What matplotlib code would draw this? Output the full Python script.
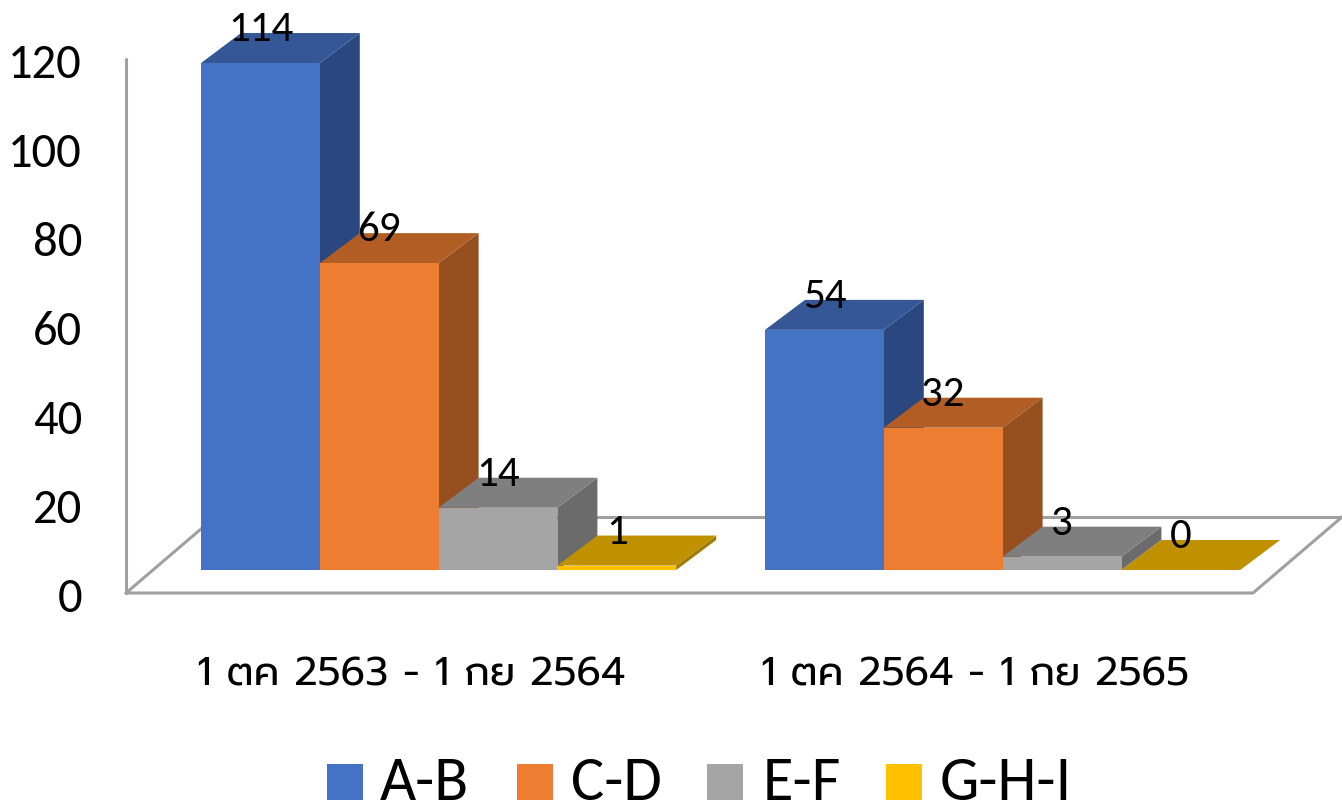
import matplotlib
matplotlib.use("Agg")
import matplotlib.pyplot as plt
from matplotlib.patches import Polygon, Rectangle

plt.rcParams['font.family'] = ['Carlito', 'Open Sans', 'DejaVu Sans']

periods = ["1 ตค 2563 - 1 กย 2564", "1 ตค 2564 - 1 กย 2565"]
series = ["A-B", "C-D", "E-F", "G-H-I"]
values = [[114, 69, 14, 1], [54, 32, 3, 0]]
y_ticks = [0, 20, 40, 60, 80, 100, 120]

front = ["#4472c4", "#ed7d31", "#a5a5a5", "#ffc000"]
top = ["#355796", "#b15d24", "#7f7f7f", "#bf9000"]
side = ["#2a4780", "#964f1e", "#6b6b6b", "#a37b00"]

W, H = 1342, 805
BAR_PX = 118.8
UNIT_PX = 4.447
X0_PX, Y0_PX = 201, 570
GROUP_STEP = 564 / BAR_PX
DX, DY = 40 / BAR_PX, 30 / UNIT_PX

fig = plt.figure(figsize=(W / 100, H / 100), dpi=100)
ax = fig.add_axes([0, 0, 1, 1])
ax.set_xlim(-X0_PX / BAR_PX, (W - X0_PX) / BAR_PX)
ax.set_ylim(-(H - Y0_PX) / UNIT_PX, Y0_PX / UNIT_PX)
ax.axis("off")


def px_x(p):
    return (p - X0_PX) / BAR_PX


def px_y(p):
    return (Y0_PX - p) / UNIT_PX


# walls and floor
line = dict(color="#a0a0a0", lw=2.2, solid_capstyle="round")
ax.plot([px_x(126), px_x(126)], [px_y(593), px_y(59)], **line)
ax.plot([px_x(126), px_x(1253), px_x(1342)], [px_y(593), px_y(593), px_y(517)], **line)
ax.plot([px_x(126), px_x(215)], [px_y(593), px_y(517)], **line)
ax.plot([px_x(215), px_x(1342)], [px_y(517), px_y(517)], **line)

for t in y_ticks:
    ax.text(px_x(82), t - 24.5 / UNIT_PX, str(t), ha="right", va="center_baseline", fontsize=35, color="black")

for g, vals in enumerate(values):
    for i, v in enumerate(vals):
        x = g * GROUP_STEP + i
        ax.add_patch(Polygon([(x + 1, 0), (x + 1 + DX, DY), (x + 1 + DX, v + DY), (x + 1, v)],
                             fc=side[i], ec="none", zorder=2 + g * 10 + i))
        ax.add_patch(Polygon([(x, v), (x + 1, v), (x + 1 + DX, v + DY), (x + DX, v + DY)],
                             fc=top[i], ec="none", zorder=2 + g * 10 + i))
        ax.add_patch(Rectangle((x, 0), 1, v, fc=front[i], ec="none", zorder=2 + g * 10 + i))
        ax.text(x + 0.5, v + DY + 7 / UNIT_PX, str(v), ha="center", va="center_baseline", fontsize=31,
                color="black", zorder=50)
    ax.text(g * GROUP_STEP + 1.77, px_y(675), periods[g], ha="center", va="center", fontsize=29,
            color="black", family=['Prompt', 'Noto Sans Thai', 'DejaVu Sans'])

# legend
legend_x = [327, 517, 707, 886]
label_x = [380, 571, 763, 940]
for i, name in enumerate(series):
    ax.add_patch(Rectangle((px_x(legend_x[i]), px_y(800)), 36 / BAR_PX, 36 / UNIT_PX, fc=front[i], ec="none"))
    ax.text(px_x(label_x[i]), px_y(778), name, ha="left", va="center_baseline", fontsize=45, color="black")

fig.savefig("out.png", dpi=100)
